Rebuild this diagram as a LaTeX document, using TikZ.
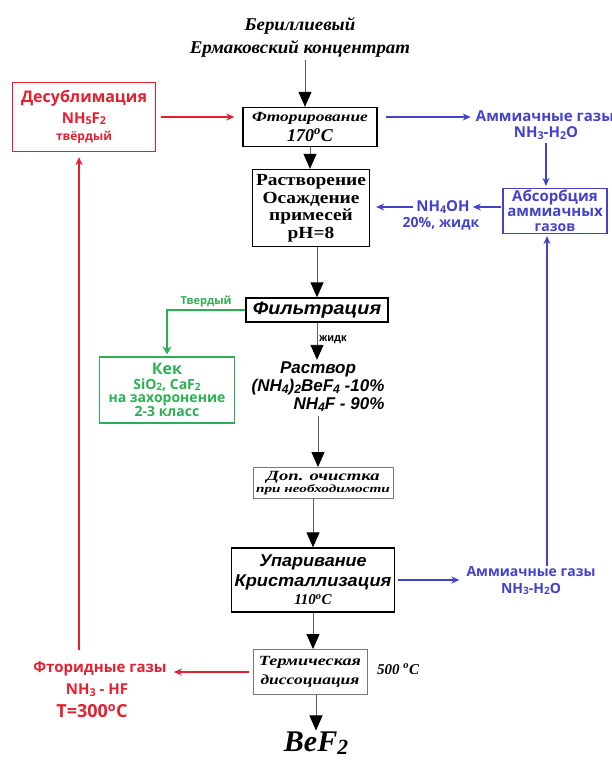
\documentclass[tikz,border=0pt]{standalone}
\usepackage{graphicx}
\usepackage{fontspec}
\setmainfont{Liberation Serif}
\setsansfont{Liberation Sans}
\newfontfamily\gasfont{Open Sans}
\usetikzlibrary{positioning}
\usetikzlibrary{arrows.meta}
\usetikzlibrary{calc}

\definecolor{redflow}{RGB}{228,32,48}
\definecolor{blueflow}{RGB}{66,66,204}
\definecolor{greenflow}{RGB}{44,176,84}
\definecolor{shaft}{RGB}{95,95,95}
\definecolor{greybox}{RGB}{120,120,120}

\newcommand{\fs}[2]{\fontsize{#1}{#2}\selectfont}
\newcommand{\wide}[2]{\scalebox{#1}[1]{#2}}
\newcommand{\ix}[1]{\raisebox{-0.1em}{\scalebox{0.72}{#1}}}
\newcommand{\degC}{\textsuperscript{o}C}

\tikzset{ed/.style={inner sep=2pt,font=\sffamily\bfseries\fs{11}{11}}}
\tikzset{proc/.style={draw,line width=1.3pt,align=center,inner sep=1pt}}
\tikzset{greyproc/.style={draw=greybox,line width=0.9pt,align=center,inner sep=1pt}}
\tikzset{flow/.style={draw=shaft,line width=0.9pt,-{Triangle[width=13pt,length=15pt,color=black,fill=black]}}}
\tikzset{redarr/.style={draw=redflow,line width=1.5pt,-{Stealth[length=8pt,width=7pt]}}}
\tikzset{bluearr/.style={draw=blueflow,line width=1.5pt,-{Stealth[length=8pt,width=7pt]}}}
\tikzset{greenarr/.style={draw=greenflow,line width=2.4pt,-{Stealth[length=8pt,width=9pt]}}}
\tikzset{redtxt/.style={text=redflow,font=\gasfont\bfseries,align=center,inner sep=1pt}}
\tikzset{bluetxt/.style={text=blueflow,font=\gasfont\bfseries,align=center,inner sep=1pt}}
\tikzset{greentxt/.style={text=greenflow,font=\gasfont\bfseries,align=center,inner sep=1pt}}

\begin{document}
\begin{tikzpicture}[x=1pt,y=-1pt]
\useasboundingbox (0,0) rectangle (611,760);

% main line
\node[align=center,font=\bfseries\itshape\fs{18}{23}] (conc) at (300,37)
  {\wide{1.05}{Бериллиевый}\\\wide{1.05}{Ермаковский концентрат}};
\coordinate (feed) at (305,0);
\node[proc,minimum width=134pt,minimum height=39pt] (fluor) at (310,127)
  {{\bfseries\itshape\fs{14}{14}\wide{1.24}{Фторирование}}\\[3pt]{\bfseries\itshape\fs{18}{18}170\degC}};
\node[proc,minimum width=117pt,minimum height=77pt,font=\bfseries\fs{17}{17.5}] (dissolve) at (311,208)
  {\wide{1.14}{Растворение}\\\wide{1.14}{Осаждение}\\\wide{1.14}{примесей}\\\wide{1.14}{pH=8}};
\node[proc,minimum width=142pt,minimum height=24pt] (filter) at (317,310)
  {\sffamily\bfseries\itshape\fs{18}{18}\wide{1.1}{Фильтрация}};
\node[font=\sffamily\bfseries\itshape\fs{17}{18},inner sep=1pt] (sol) at (318,388)
  {\begin{tabular}{@{}r@{}}
   \multicolumn{1}{@{}c@{}}{Раствор}\\
   (NH\ix{4})\ix{2}BeF\ix{4} -10\%\\
   NH\ix{4}F - 90\%\end{tabular}};
\node[greyproc,minimum width=140pt,minimum height=31pt] (extra) at (323,483)
  {{\bfseries\itshape\fs{14}{14}\wide{1.33}{Доп. очистка}}\\[0pt]{\bfseries\itshape\fs{11}{11}\wide{1.38}{при необходимости}}};
\node[proc,minimum width=163pt,minimum height=64pt] (evap) at (313,580)
  {{\sffamily\bfseries\itshape\fs{17}{17}\wide{1.06}{Упаривание}}\\[3pt]{\sffamily\bfseries\itshape\fs{17}{17}\wide{1.07}{Кристаллизация}}\\[4pt]{\bfseries\itshape\fs{15}{15}110\degC}};
\node[greyproc,minimum width=114pt,minimum height=45pt] (thermo) at (310,672)
  {{\bfseries\itshape\fs{14}{14}\wide{1.3}{Термическая}}\\[5pt]{\bfseries\itshape\fs{14}{14}\wide{1.25}{диссоциация}}};
\node[font=\bfseries\itshape\fs{15}{15},inner sep=1pt] (t500) at (398,669) {500 \degC};
\node[font=\bfseries\itshape\fs{30}{30},inner sep=1pt] (bef) at (316,743) {BeF\ix{2}};

\draw[flow] (conc.south -| feed) -- (fluor.north -| feed);
\draw[flow] (fluor.south) -- (fluor.south |- dissolve.north);
\draw[flow] (dissolve.south -| filter) -- (filter.north);
\draw[flow] (filter.south) -- node[ed,right,pos=0.45] {жидк} (filter.south |- sol.north);
\draw[flow] (sol.south) -- (sol.south |- extra.north);
\draw[flow] (extra.south -| evap) -- (evap.south |- evap.north);
\draw[flow] (evap.south) -- (evap.south |- thermo.north);
\draw[flow] (thermo.south -| bef) -- (bef.north);

% recycle of fluoride gases
\node[draw=redflow,line width=1.3pt,redtxt,minimum width=143pt,minimum height=69pt] (desub) at (84,117)
  {\fs{16}{16}Десублимация\\[5pt]\fs{15}{15}NH\ix{5}F\ix{2}\\[5pt]\fs{12}{12}твёрдый};
\node[redtxt,font=\gasfont\bfseries\fs{15}{15}] (fgas) at (100,669) {Фторидные газы};
\node[redtxt,font=\gasfont\bfseries\fs{15}{15}] (fgasf) at (97,690) {NH\ix{3} - HF};
\node[redtxt,font=\gasfont\bfseries\fs{18}{18}] (fgast) at (92,711) {T=300\degC};
\coordinate (redup) at (79,650);

\draw[redarr,shorten <=5pt,shorten >=8pt] (desub.east) -- (desub.east -| fluor.west);
\draw[redarr,shorten <=4pt,shorten >=6pt] (thermo.west) -- (thermo.west -| fgas.east);
\draw[redarr,shorten >=5pt] (redup) -- (redup |- desub.south);

% ammonia gases
\node[bluetxt,font=\gasfont\bfseries\fs{15}{15}] (gasa) at (545,116) {Аммиачные газы};
\node[bluetxt,font=\gasfont\bfseries\fs{15}{15}] (gasaf) at (546,133) {NH\ix{3}-H\ix{2}O};
\node[draw=blueflow,line width=1.1pt,bluetxt,font=\gasfont\bfseries\fs{15}{15},minimum width=104pt,minimum height=45pt] (absorb) at (555,211)
  {Абсорбция\\аммиачных\\\fs{14}{15}газов};
\node[bluetxt,font=\gasfont\bfseries\fs{15}{15}] (nh4) at (443,207) {NH\ix{4}OH};
\node[bluetxt,font=\gasfont\bfseries\fs{14}{14}] (nh4f) at (441,224) {20\%, жидк};
\node[bluetxt,font=\gasfont\bfseries\fs{14}{14}] (gasb) at (531,572) {Аммиачные газы};
\node[bluetxt,font=\gasfont\bfseries\fs{14}{14}] (gasbf) at (531,589) {NH\ix{3}-H\ix{2}O};
\coordinate (blueup) at (547,566);

\draw[bluearr,shorten <=8pt,shorten >=4pt] ([yshift=10pt]fluor.east) -- ([yshift=10pt]fluor.east -| gasa.west);
\draw[bluearr,shorten <=3pt,shorten >=2pt] (gasaf.south) -- (gasaf.south |- absorb.north);
\draw[bluearr,shorten <=1pt,shorten >=2pt] (absorb.west |- nh4) -- (nh4.east);
\draw[bluearr,shorten <=2pt,shorten >=6pt] (nh4.west) -- (nh4.west -| dissolve.east);
\draw[bluearr,shorten <=3pt,shorten >=6pt] (evap.east) -- (evap.east -| gasb.west);
\draw[bluearr,shorten >=2pt] (blueup) -- (blueup |- absorb.south);

% filter cake
\node[draw=greenflow,line width=1.1pt,greentxt,minimum width=135pt,minimum height=66pt] (kek) at (167,390)
  {\fs{16}{16}Кек\\[3pt]\fs{14}{14}SiO\ix{2}, CaF\ix{2}\\[1pt]\fs{14}{14}на захоронение\\[0pt]\fs{14}{14}2-3 класс};
\draw[greenarr,shorten >=2pt] (filter.west) -- node[greentxt,above=1pt,font=\gasfont\bfseries\fs{11}{11}] {Твердый}
  (filter.west -| kek.north) -- (kek.north);
\end{tikzpicture}
\end{document}
